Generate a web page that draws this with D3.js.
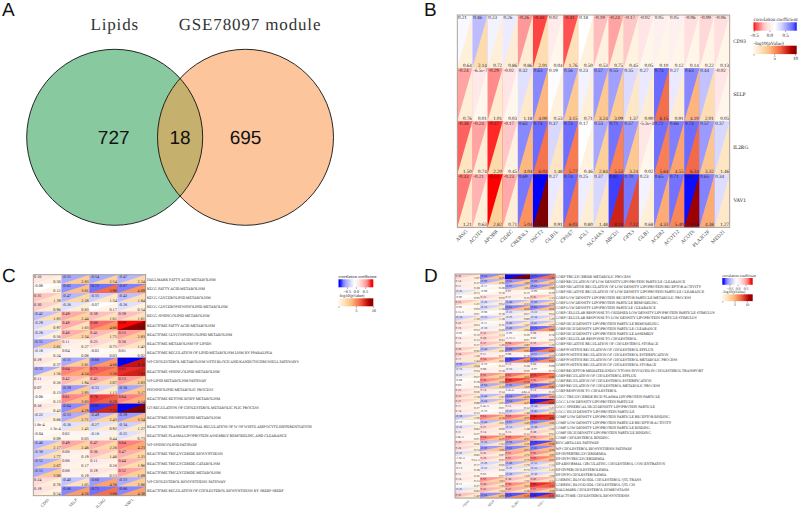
<!DOCTYPE html>
<html><head><meta charset="utf-8">
<script src="https://cdn.jsdelivr.net/npm/d3@7"></script>
<style>
html,body{margin:0;padding:0;background:#fff}
svg{display:block}
text{text-rendering:geometricPrecision}
</style></head><body>
<svg id="c" width="800" height="510"></svg>
<script>
// Panel A
const vennSets = ["Lipids", "GSE78097 module"];
const vennCounts = [727, 18, 695];

// Panel B
const bGenes = ["ARSG","ACOT4","APOBR","CIDEC","CREB3L3","OSCT2","GLB1L","CPNE7","IGL1","SLC44A3","ABCD1","GPX3","GLB1","ACER2","ACOT12","ACOT6","PLA2G2F","MED21"];
const bRows = ["CD93","SELP","IL2RG","VAV1"];
const bCorr = [
 [0.21,0.46,0.23,0.26,-0.26,-0.44,0.02,-0.41,0.18,-0.19,-0.24,-0.17,-0.02,0.05,0.05,-0.06,-0.09,-0.06],
 [-0.24,-6.5e-7,-0.29,-0.02,0.32,0.63,0.19,0.56,0.23,0.57,0.55,0.35,0.27,0.74,0.27,0.63,0.44,-0.02],
 [-0.38,-0.24,-0.47,-0.17,0.63,0.74,0.37,0.73,0.17,0.53,0.71,0.57,-5.3e-3,0.72,0.66,0.74,0.57,0.37],
 [-0.33,-0.21,-0.51,-0.23,0.69,0.87,0.27,0.74,0.25,0.37,0.82,0.70,0.23,0.65,0.71,0.86,0.65,0.34]];
const bLogP = [
 [0.64,2.14,0.72,0.86,0.86,2.01,0.04,1.76,0.50,0.53,0.75,0.45,0.05,0.10,0.12,0.14,0.22,0.13],
 [0.76,0.01,1.01,0.03,1.18,4.00,0.53,3.15,0.71,3.24,3.09,1.37,0.90,6.15,0.91,4.10,2.01,0.05],
 [1.50,0.74,2.20,0.45,4.04,6.03,1.48,5.77,0.46,2.84,5.53,3.24,0.02,5.64,4.55,6.34,3.32,1.46],
 [1.21,0.63,2.82,0.71,5.04,10.44,0.91,6.03,0.80,1.48,8.18,7.12,0.68,4.33,5.40,9.68,4.38,1.27]];

// Panel C
const immune = ["CD93","SELP","IL2RG","VAV1"];
const cPaths = ["HALLMARK FATTY  ACID METABOLISM","KEGG FATTY  ACID METABOLISM","KEGG GLYCEROLIPID  METABOLISM","KEGG GLYCEROPHOSPHOLIPID  METABOLISM","KEGG SPHINGOLIPID METABOLISM","REACTOME FATTY  ACID METABOLISM","REACTOME GLYCOSPHINGOLIPID METABOLISM","REACTOME METABOLISM OF LIPIDS","REACTOME REGULATION OF LIPID METABOLISM  LISM BY PPARALPHA","WP CHOLESTEROL METABOLISM WITH BLOCH AND KANDUTSCHRUSSELL PATHWAYS","REACTOME SPHINGOLIPID METABOLISM","WP LIPID METABOLISM PATHWAY","PHOSPHOLIPID METABOLIC PROCESS","REACTOME KETONE BODY METABOLISM","GO REGULATION OF CHOLESTEROL METABOLIC PLIC PROCESS","REACTOME PHOSPHOLIPID METABOLISM","REACTOME TRANSCRIPTIONAL REGULATION OF W OF WHITE ADIPOCYTE DIFFERENTIATION","REACTOME PLASMA LIPOPROTEIN ASSEMBLY REMODELING AND CLEARANCE","WP SPHINGOLIPID PATHWAY","REACTOME TRIGLYCERIDE BIOSYNTHESIS","REACTOME TRIGLYCERIDE CATABOLISM","REACTOME TRIGLYCERIDE METABOLISM","WP CHOLESTEROL BIOSYNTHESIS PATHWAY","REACTOME REGULATION OF CHOLESTEROL BIOSYNTHESIS BY SREBP SREBF"];
const cCorr = [
 [0.16,-0.55,-0.54,-0.47],[-0.08,-0.62,-0.72,-0.67],[0.35,-0.47,-0.35,-0.42],[0.30,-0.26,-0.07,-0.26],
 [-0.42,0.49,0.39,0.39],[-0.29,0.48,0.68,0.86],[-0.28,0.46,0.41,0.53],[-0.55,0.11,0.25,0.36],
 [-0.18,0.04,-0.02,0.01],[0.19,-0.55,-0.66,-0.91],[-0.55,0.64,0.71,0.81],[0.11,0.42,0.45,0.53],
 [0.07,-0.59,-0.32,-0.56],[-0.06,0.61,0.76,0.64],[0.16,-0.64,-0.80,-0.91],[-0.22,-0.53,-0.49,-0.59],
 [1.8e-4,-0.26,-0.27,-0.34],[-0.04,0.02,-0.16,-0.25],[-0.46,0.49,0.47,0.64],[-0.38,0.08,0.36,0.47],
 [-0.52,0.08,0.11,0.44],[-0.55,0.08,0.19,0.52],[0.24,-0.40,-0.60,-0.53],[0.19,-0.66,-0.72,-0.66]];
const cLogP = [
 [0.50,2.83,2.54,2.24],[0.12,3.61,5.98,4.69],[1.39,2.28,1.34,1.84],[0.96,0.83,0.17,0.54],
 [1.83,2.44,1.61,1.61],[0.97,1.63,4.66,9.60],[0.56,2.34,1.75,2.83],[2.81,0.27,0.75,1.42],
 [0.24,0.08,0.03,0.02],[0.37,2.81,4.66,8.16],[1.56,4.24,5.36,7.83],[0.26,1.94,2.07,2.83],
 [0.13,2.93,1.13,3.17],[0.13,3.83,6.28,4.14],[0.43,4.29,7.74,10.0],[0.66,2.71,2.43,3.54],
 [1.3e-4,1.43,0.92,1.27],[0.09,0.03,0.44,0.73],[2.17,2.46,2.26,4.23],[1.77,0.19,1.46,2.25],
 [2.67,0.17,0.26,1.96],[3.08,0.19,0.53,2.69],[0.76,1.65,4.38,2.86],[0.54,4.56,5.86,4.38]];

// Panel D
const dPaths = ["GOBP TRIGLYCERIDE METABOLIC PROCESS","GOBP REGULATION OF LOW DENSITY LIPOPROTEIN PARTICLE CLEARANCE","GOBP NEGATIVE REGULATION OF LOW DENSITY LIPOPROTEIN RECEPTOR ACTIVITY","GOBP NEGATIVE REGULATION OF LOW DENSITY LIPOPROTEIN PARTICLE CLEARANCE","GOBP LOW DENSITY LIPOPROTEIN RECEPTOR PARTICLE METABOLIC PROCESS","GOBP LOW DENSITY LIPOPROTEIN PARTICLE REMODELING","GOBP LOW DENSITY LIPOPROTEIN PARTICLE CLEARANCE","GOBP CELLULAR RESPONSE TO OXIDISED LOW DENSITY LIPOPROTEIN PARTICLE STIMULUS","GOBP CELLULAR RESPONSE TO LOW DENSITY LIPOPROTEIN PARTICLE STIMULUS","GOBP HIGH DENSITY LIPOPROTEIN PARTICLE REMODELING","GOBP HIGH DENSITY LIPOPROTEIN PARTICLE CLEARANCE","GOBP HIGH DENSITY LIPOPROTEIN PARTICLE ASSEMBLY","GOBP CELLULAR RESPONSE TO CHOLESTEROL","GOBP NEGATIVE REGULATION OF CHOLESTEROL STORAGE","GOBP POSITIVE REGULATION OF CHOLESTEROL EFFLUX","GOBP POSITIVE REGULATION OF CHOLESTEROL ESTERIFICATION","GOBP POSITIVE REGULATION OF CHOLESTEROL METABOLIC PROCESS","GOBP POSITIVE REGULATION OF CHOLESTEROL STORAGE","GOBP RECEPTOR MEDIATED ENDOCYTOSIS INVOLVED IN CHOLESTEROL TRANSPORT","GOBP REGULATION OF CHOLESTEROL EFFLUX","GOBP REGULATION OF CHOLESTEROL ESTERIFICATION","GOBP REGULATION OF CHOLESTEROL METABOLIC PROCESS","GOBP RESPONSE TO CHOLESTEROL","GOCC TRIGLYCERIDE RICH PLASMA LIPOPROTEIN PARTICLE","GOCC LOW DENSITY LIPOPROTEIN PARTICLE","GOCC SPHERICAL HIGH DENSITY LIPOPROTEIN PARTICLE","GOCC HIGH DENSITY LIPOPROTEIN PARTICLE","GOMF LOW DENSITY LIPOPROTEIN PARTICLE RECEPTOR BINDING","GOMF LOW DENSITY LIPOPROTEIN PARTICLE RECEPTOR ACTIVITY","GOMF LOW DENSITY LIPOPROTEIN PARTICLE BINDING","GOMF HIGH DENSITY LIPOPROTEIN PARTICLE BINDING","GOMF CHOLESTEROL BINDING","BIOCARTA LDL PATHWAY","WP CHOLESTEROL BIOSYNTHESIS PATHWAY","HP HYPERTRIGLYCERIDEMIA","HP HYPOTRIGLYCERIDEMIA","HP ABNORMAL CIRCULATING CHOLESTEROL CONCENTRATION","HP HYPERCHOLESTEROLEMIA","HP HYPOCHOLESTEROLEMIA","GOERING BLOOD HDL CHOLESTEROL QTL TRANS","GOERING BLOOD HDL CHOLESTEROL QTL CIS","HALLMARK CHOLESTEROL HOMEOSTASIS","REACTOME CHOLESTEROL BIOSYNTHESIS"];
const dCorr = [
 [0.30,-0.64,-0.90,-0.77],[0.14,-0.50,-0.61,-0.60],[0.11,-0.11,-0.57,-0.62],[-0.26,-0.08,0.07,-0.09],
 [-0.06,0.23,0.11,0.36],[0.33,-0.29,-0.48,-0.50],[-0.06,-0.33,-0.66,-0.66],[6.1e-3,-0.08,-0.23,-0.22],
 [-0.34,-0.33,-0.25,-0.34],[0.22,-0.11,-0.40,-0.41],[0.19,-0.18,-0.49,-0.73],[-0.06,0.32,-0.09,0.08],
 [0.14,0.28,-6.7e-3,0.02],[0.11,0.37,0.54,0.35],[0.29,-0.44,-0.68,-0.77],[0.34,0.11,0.08,-0.51],
 [0.17,0.54,-0.78,-0.74],[-0.50,-0.10,0.12,0.04],[-0.19,0.08,-0.19,-0.07],[-0.22,0.56,0.67,0.76],
 [-0.08,0.59,0.78,0.56],[0.03,-0.54,-0.59,-0.75],[0.23,0.14,2.4e-4,0.12],[0.31,-0.44,-0.64,-0.68],
 [0.27,-0.44,-0.64,-0.87],[0.11,6.4e-3,0.13,-0.34],[0.14,-0.10,-0.37,-0.46],[-0.38,0.63,0.65,0.84],
 [-0.10,-0.44,-0.57,-0.63],[-0.26,0.27,-0.33,-0.38],[0.11,0.14,0.13,0.28],[6.8e-3,0.64,0.65,0.52],
 [0.29,-0.39,-0.58,-0.78],[0.24,-0.60,-0.66,-0.66],[-0.26,0.26,0.51,0.56],[-1.9e-3,0.29,0.51,0.65],
 [0.08,-0.29,-0.48,-0.33],[-0.13,-0.22,-0.25,-0.33],[0.11,0.03,-0.39,-0.30],[0.14,0.55,0.38,0.45],
 [-0.11,0.44,0.59,0.80],[-0.26,0.43,0.47,0.57],[0.36,-0.64,-0.76,-0.82]];
const dLogP = [
 [1.07,4.25,12.4,7.20],[0.37,2.56,3.85,3.77],[0.28,0.28,3.02,3.95],[0.73,0.18,0.15,0.20],
 [0.09,0.69,0.26,1.33],[1.21,0.92,2.33,2.78],[0.09,1.18,4.60,4.66],[0.01,0.18,0.67,0.64],
 [1.30,1.18,0.80,1.25],[0.63,0.26,1.67,1.75],[0.52,0.49,2.54,5.85],[0.10,1.13,0.20,0.18],
 [0.33,0.93,0.01,0.03],[0.27,1.49,2.87,1.26],[0.96,2.01,5.03,6.89],[1.29,0.27,0.18,2.70],
 [1.44,2.61,6.26,5.99],[2.64,0.23,0.28,0.08],[0.54,0.18,0.55,0.15],[0.67,3.37,4.66,6.90],
 [0.18,3.58,6.70,3.18],[0.06,3.10,3.60,5.80],[0.69,0.34,4.8e-4,0.30],[1.18,1.97,4.25,5.00],
 [0.88,2.03,4.27,8.90],[0.27,0.01,0.32,1.21],[0.33,0.23,1.48,2.18],[1.59,4.18,4.55,8.89],
 [0.23,2.01,3.45,3.96],[0.82,0.90,1.28,1.56],[0.27,0.34,0.32,0.93],[0.01,4.25,4.51,2.87],
 [0.96,1.52,3.29,5.58],[0.74,3.96,4.53,4.58],[0.82,0.87,2.76,2.85],[5.6e-3,0.97,2.75,4.53],
 [0.17,0.96,1.79,1.14],[0.28,0.60,0.79,1.21],[0.26,0.07,1.60,1.00],[0.33,3.03,1.56,2.14],
 [0.27,1.95,3.63,7.73],[0.82,1.94,2.28,3.50],[1.40,4.50,6.39,8.39]];

const svg = d3.select("#c");
const SERIF = "'Liberation Serif',serif", SANS = "'Liberation Sans',sans-serif";
const INK = "#222";
const fmt = v => { if (v === 0) return "0"; const a = Math.abs(v);
  return a < 0.01 ? v.toExponential(1) : v.toFixed(2); };

const orrd = ["#fff7ec","#fee8c8","#fdd49e","#fdbb84","#fc8d59","#ef6548","#d7301f","#b30000","#7f0000"];
const pScale = max => d3.scaleLinear().domain(orrd.map((_, i) => i * max / (orrd.length - 1))).range(orrd);

[["A",2,16],["B",424,16],["C",2,282],["D",424,282]].forEach(([t, x, y]) =>
  svg.append("text").attr("x", x).attr("y", y).attr("font-family", SANS).attr("font-size", 19).attr("fill", "#111").text(t));

// ---------- Venn
(function () {
  const x = d3.scaleLinear().domain([0, 1]).range([114.7, 245.5]);
  const cy = 137.3, r = 88;
  const g = svg.append("g");
  g.append("clipPath").attr("id", "lc").append("circle").attr("cx", x(0)).attr("cy", cy).attr("r", r);
  g.append("circle").attr("cx", x(0)).attr("cy", cy).attr("r", r).attr("fill", "#88c99f");
  g.append("circle").attr("cx", x(1)).attr("cy", cy).attr("r", r).attr("fill", "#fcc59b");
  g.append("circle").attr("cx", x(1)).attr("cy", cy).attr("r", r).attr("fill", "#c6b06e").attr("clip-path", "url(#lc)");
  [0, 1].forEach(i => g.append("circle").attr("cx", x(i)).attr("cy", cy).attr("r", r).attr("fill", "none").attr("stroke", "#111").attr("stroke-width", 0.9));
  vennSets.forEach((s, i) => g.append("text").attr("x", i ? 250 : x(0)).attr("y", 29.5).attr("text-anchor", "middle")
    .attr("font-family", SERIF).attr("font-size", 17).attr("letter-spacing", 0.85).attr("fill", "#333").text(s));
  [x(0) - 1, x(0.5), x(1)].forEach((px, i) => g.append("text").attr("x", px).attr("y", 143.5).attr("text-anchor", "middle")
    .attr("font-family", SANS).attr("font-size", 19).attr("fill", "#111").text(vennCounts[i]));
})();

// ---------- heat panels
function heat(o) {
  const x = d3.scaleBand().domain(o.cols).range([o.x0, o.x1]);
  const y = d3.scaleBand().domain(o.rows).range([o.y0, o.y1]);
  const g = svg.append("g");
  const cells = [];
  o.rows.forEach((r, i) => o.cols.forEach((c, j) => cells.push({ r, c, v: o.corr[i][j], p: o.logp[i][j] })));
  const sel = g.selectAll("g.cell").data(cells).join("g");
  sel.append("rect").attr("x", d => x(d.c)).attr("y", d => y(d.r)).attr("width", x.bandwidth() + 0.3).attr("height", y.bandwidth() + 0.3)
    .attr("fill", d => o.cScale(d.v));
  sel.append("path").attr("d", d => {
    const a = x(d.c), b = a + x.bandwidth(), t = y(d.r), u = t + y.bandwidth();
    return d3.line()([[a, u], [b, t], [b, u]]) + "Z";
  }).attr("fill", d => o.pCol(d.p));
  sel.append("text").attr("x", d => x(d.c) + o.pad).attr("y", d => y(d.r) + o.fs * 0.85)
    .attr("font-family", SERIF).attr("font-size", o.fs).attr("fill", INK).text(d => fmt(d.v));
  sel.append("text").attr("x", d => x(d.c) + x.bandwidth() - o.pad).attr("y", d => y(d.r) + y.bandwidth() - o.fs * 0.18)
    .attr("text-anchor", "end").attr("font-family", SERIF).attr("font-size", o.fs).attr("fill", INK).text(d => fmt(d.p));
  g.append("rect").attr("x", o.x0).attr("y", o.y0).attr("width", o.x1 - o.x0).attr("height", o.y1 - o.y0)
    .attr("fill", "none").attr("stroke", "#a39a90").attr("stroke-width", 0.9);
  const ax = g.append("g").attr("transform", `translate(0,${o.y1})`).call(d3.axisBottom(x).tickSize(0));
  ax.select(".domain").remove();
  ax.selectAll("text").attr("font-family", SERIF).attr("font-size", o.xfs).attr("fill", "#444")
    .attr("text-anchor", "end").attr("dy", 0).attr("y", 0)
    .attr("transform", `translate(${o.xdx},${o.xdy}) rotate(-45)`);
  const ay = g.append("g").attr("transform", `translate(${o.x1},0)`).call(d3.axisRight(y).tickSize(0));
  ay.select(".domain").remove();
  ay.selectAll("text").attr("font-family", SERIF).attr("font-size", o.yfs).attr("fill", "#222").attr("x", o.ydx).attr("dy", "0.32em");
}

function legend(o, id) {
  const g = svg.append("g");
  const t = svg.append("defs");
  const mk = (gid, sc, lo, hi) => {
    const lg = t.append("linearGradient").attr("id", gid);
    d3.range(0, 41).forEach(i => {
      const f = i / 40;
      lg.append("stop").attr("offset", f).attr("stop-color", sc(lo + (hi - lo) * f));
    });
  };
  mk(id + "a", o.cScale, o.cLo, o.cHi);
  mk(id + "b", o.pCol, 0, o.pMax);
  const sx = d3.scaleLinear().domain([o.cLo, o.cHi]).range([o.x0, o.x1]);
  const px = d3.scaleLinear().domain([0, o.pMax]).range([o.x0, o.x1]);
  const txt = (s, y) => g.append("text").attr("x", o.x0).attr("y", y).attr("font-family", SERIF).attr("font-size", o.fs).attr("fill", "#222").text(s);
  txt("correlation coefficient", o.y1 - 1.2);
  g.append("rect").attr("x", o.x0).attr("y", o.y1).attr("width", o.x1 - o.x0).attr("height", o.h).attr("fill", `url(#${id}a)`);
  const a1 = g.append("g").attr("transform", `translate(0,${o.y1 + o.h})`)
    .call(d3.axisBottom(sx).tickValues([-0.5, 0, 0.5]).tickFormat(d => d.toFixed(1).replace("-", "−")).tickSize(1.5).tickPadding(0.8));
  txt("-log10(pValue)", o.y2 - 1.2);
  g.append("rect").attr("x", o.x0).attr("y", o.y2).attr("width", o.x1 - o.x0).attr("height", o.h).attr("fill", `url(#${id}b)`);
  const a2 = g.append("g").attr("transform", `translate(0,${o.y2 + o.h})`)
    .call(d3.axisBottom(px).tickValues([0, 5, 10]).tickFormat(d => d === 0 ? "" : d).tickSize(1.5).tickPadding(0.8));
  [a1, a2].forEach(a => {
    a.select(".domain").remove();
    a.selectAll("line").attr("stroke", "#444").attr("stroke-width", 0.5);
    a.selectAll("text").attr("font-family", SERIF).attr("font-size", o.fs).attr("fill", "#222");
  });
}

// B: white sits near +0.18, as the reference legend shows
const bCol = d3.scaleLinear()
  .domain([-0.51, -0.44, -0.26, -0.17, -0.06, 0.05, 0.18, 0.26, 0.37, 0.46, 0.63, 0.74, 0.82, 0.87])
  .range(["#ff0000","#ff4444","#ff9999","#ffc8c8","#ffdfdf","#fff0f0","#ffffff","#ecebff","#d8d8ff","#bcbcff","#8888ff","#6b6bff","#4040ff","#0000ff"]);
const bP = pScale(10.44);
heat({ cols: bGenes, rows: bRows, corr: bCorr, logp: bLogP, x0: 457.3, x1: 729.7, y0: 15, y1: 227.3, cScale: bCol, pCol: bP,
  fs: 5, pad: 0.8, xfs: 5.3, xdx: 3, xdy: 4.5, yfs: 5.3, ydx: 3.5 });
legend({ x0: 753.5, x1: 796.7, y1: 22.3, y2: 45.7, h: 8.4, cLo: -0.51, cHi: 0.87, cScale: bCol, pCol: bP, pMax: 10.44, fs: 5 }, "lb");

// C & D colour
const cdCol = d3.scaleLinear()
  .domain([-0.96, -0.91, -0.8, -0.72, -0.55, -0.42, -0.28, -0.08, 0.19, 0.49, 0.64, 0.81, 0.87, 0.96])
  .range(["#0000ff","#0000ff","#3636ff","#7272ff","#aaaaff","#bfbfff","#dcdcff","#ffffff","#ffe2e2","#ffaaaa","#ff8080","#ea2a2a","#ff0000","#ff0000"]);
const cP = pScale(10);
heat({ cols: immune, rows: cPaths, corr: cCorr, logp: cLogP, x0: 33.3, x1: 145.7, y0: 274.7, y1: 495.7, cScale: cdCol, pCol: cP,
  fs: 4.2, pad: 0.8, xfs: 4.2, xdx: 2, xdy: 4.5, yfs: 3.75, ydx: 1.2 });
legend({ x0: 338.5, x1: 373.3, y1: 279.3, y2: 298.3, h: 8, cLo: -0.96, cHi: 0.96, cScale: cdCol, pCol: cP, pMax: 10, fs: 4.3 }, "lc2");

const dP = pScale(12.4);
heat({ cols: immune, rows: dPaths, corr: dCorr, logp: dLogP, x0: 455, x1: 555, y0: 274, y1: 498, cScale: cdCol, pCol: dP,
  fs: 3.2, pad: 0.5, xfs: 3.4, xdx: 2, xdy: 3.5, yfs: 3.65, ydx: 0.8 });
legend({ x0: 722.3, x1: 752.7, y1: 278, y2: 294.3, h: 6.8, cLo: -0.95, cHi: 0.95, cScale: cdCol, pCol: dP, pMax: 12.4, fs: 3.8 }, "ld");
</script>
</body></html>
